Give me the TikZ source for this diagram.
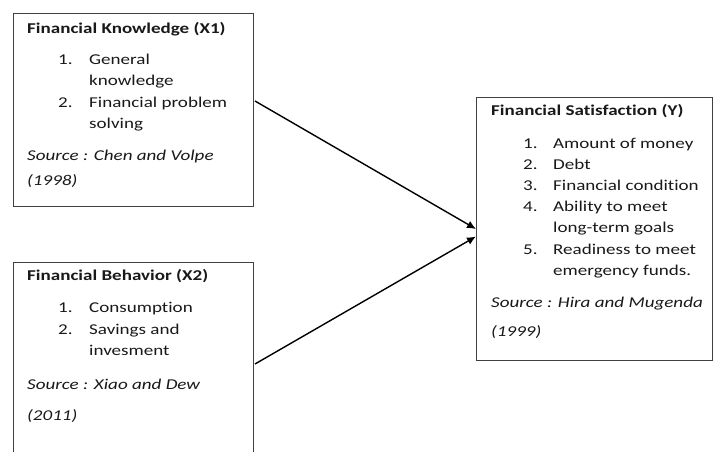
\documentclass[tikz,border=0pt]{standalone}
\usepackage{fontspec}
\setmainfont{Carlito}[FakeStretch=1.27,Ligatures=NoCommon]
\usetikzlibrary{arrows.meta}
\definecolor{boxgray}{HTML}{404040}
\begin{document}
\begin{tikzpicture}[x=1pt,y=-1pt,
 box/.style={draw=boxgray, line width=1pt, inner sep=0pt, anchor=north west},
 txt/.style={anchor=mid west, inner sep=0pt, text=black!90, font=\fontsize{15}{17}\selectfont},
 ttl/.style={txt, font=\fontsize{15}{17}\selectfont\bfseries},
 src/.style={txt, font=\fontsize{15}{17}\selectfont\itshape},
 arr/.style={-{Latex[length=9pt,width=8pt]}, line width=1.4pt}]
\clip (0,0) rectangle (713,451);
\fill[white] (0,0) rectangle (713,451);
% boxes
\node[box, minimum width=240pt, minimum height=193pt] (b1) at (13,13) {};
\node[box, minimum width=240pt, minimum height=220pt] (b2) at (13,262) {};
\node[box, minimum width=236pt, minimum height=263pt] (b3) at (476,97) {};
% box 1 text
\node[ttl] (t1) at (27,31) {Financial Knowledge (X1)};
\node[txt] (n11) at (58,62) {1.};
\node[txt] (i11) at (89,62) {General};
\node[txt] (i11b) at (89,83) {knowledge};
\node[txt] (n12) at (58,105) {2.};
\node[txt] (i12) at (89,105) {Financial problem};
\node[txt] (i12b) at (89,126) {solving};
\node[src] (s1t) at (27,158) {Source : Chen and Volpe};
\node[src] (y1) at (27,183) {(1998)};
% box 2 text
\node[ttl] (t2) at (27,278) {Financial Behavior (X2)};
\node[txt] (n21) at (58,310) {1.};
\node[txt] (i21) at (89,310) {Consumption};
\node[txt] (n22) at (58,332) {2.};
\node[txt] (i22) at (89,332) {Savings and};
\node[txt] (i22b) at (89,353) {invesment};
\node[src] (s2t) at (27,387) {Source : Xiao and Dew};
\node[src] (y2) at (27,418) {(2011)};
% box 3 text
\node[ttl] (t3) at (491,113) {Financial Satisfaction (Y)};
\node[txt] (n31) at (523,146) {1.};
\node[txt] (i31) at (553,146) {Amount of money};
\node[txt] (n32) at (523,167) {2.};
\node[txt] (i32) at (553,167) {Debt};
\node[txt] (n33) at (523,188) {3.};
\node[txt] (i33) at (553,188) {Financial condition};
\node[txt] (n34) at (523,209) {4.};
\node[txt] (i34) at (553,209) {Ability to meet};
\node[txt] (i34b) at (553,230) {long-term goals};
\node[txt] (n35) at (523,252) {5.};
\node[txt] (i35) at (553,252) {Readiness to meet};
\node[txt] (i35b) at (553,273) {emergency funds.};
\node[src] (s3t) at (491,305) {Source : Hira and Mugenda};
\node[src] (y3) at (491,334) {(1999)};
% arrows
\coordinate (a1) at (255,101);
\coordinate (a2) at (255,364);
\draw[arr] (a1) -- (b3.west);
\draw[arr] (a2) -- ([yshift=-7.5pt]b3.west);
\end{tikzpicture}
\end{document}
